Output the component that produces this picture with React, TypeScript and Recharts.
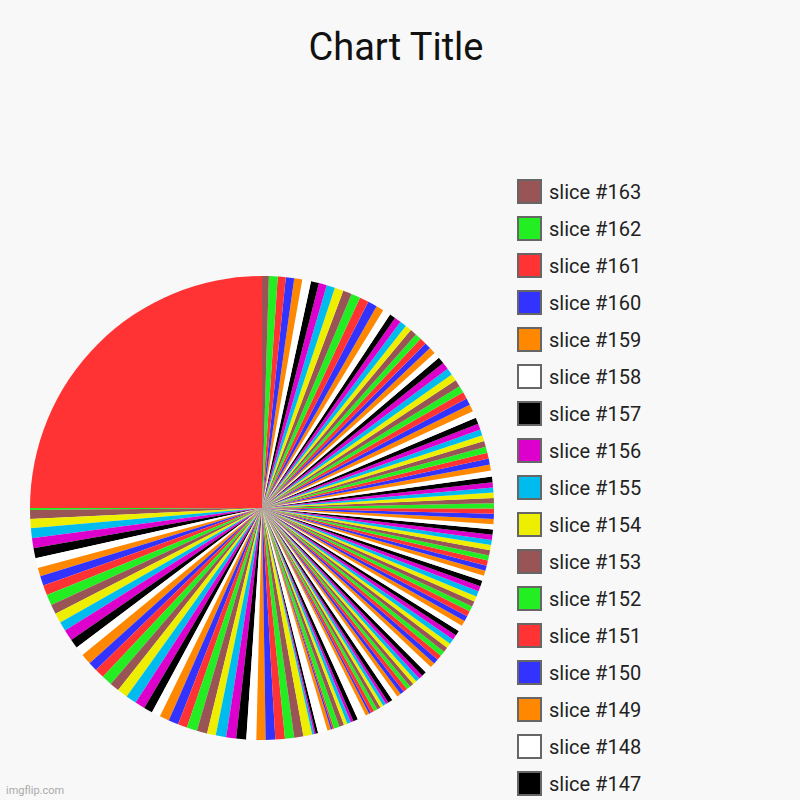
import React from 'react';
import { PieChart, Pie, Cell, Legend } from 'recharts';

// slice #1 .. slice #163 (angle units, total 360)
const sliceValues = [
  90, 0.5, 2.2, 2.3, 2.5, 2.5, 2.5, 2.5, 2.1, 2.4,
  2.5, 2.7, 2.4, 2.5, 2.3, 2.8, 2.3, 2.3, 2.7, 2.3,
  2.4, 2.6, 2.4, 2.6, 2.7, 2.5, 2.2, 2.2, 2.4, 2.5,
  2.3, 2.6, 2.6, 2.2, 2.6, 2.5, 2.5, 2.5, 2.3, 2.4,
  2.4, 2.3, 2.3, 2.2, 0.5, 0.4, 0.6, 2.4, 0.9, 0.4,
  0.4, 1.4, 1.2, 0.9, 0.9, 0.7, 1.2, 2.2, 0.9, 0.5,
  0.9, 0.9, 0.9, 0.8, 0.8, 0.7, 1.2, 1.5, 1.0, 1.0,
  1.0, 1.0, 1.0, 1.0, 1.0, 1.0, 1.2, 1.8, 1.25, 1.25,
  1.25, 1.25, 1.25, 1.25, 1.25, 1.25, 1.3, 1.5, 1.35, 1.35,
  1.35, 1.35, 1.35, 1.35, 1.35, 1.35, 1.4, 1.3, 1.3, 1.3,
  1.3, 1.3, 1.3, 1.3, 1.3, 1.3, 1.3, 1.3, 1.3, 1.3,
  1.3, 1.3, 1.3, 1.3, 1.3, 1.3, 1.4, 1.5, 1.5, 1.5,
  1.5, 1.5, 1.5, 1.5, 1.5, 1.5, 1.6, 1.75, 1.75, 1.75,
  1.75, 1.75, 1.75, 1.75, 1.75, 1.75, 1.7, 1.6, 1.65, 1.6,
  1.65, 1.6, 1.65, 1.6, 1.65, 1.65, 1.5, 2.0, 1.9, 2.3,
  2.3, 2.3, 2.2, 2.2, 2.1, 2.0, 2.0, 2.2, 2.0, 2.1,
  2.0, 2.2, 1.7,
];

const sliceNames = sliceValues.map((_, i) => `slice #${i + 1}`);

// colour cycle: #1 red, #2 green, #3 brown ... #10 blue
const palette = [
  '#ff3333', '#22ee22', '#995555', '#eeee00', '#00bbee',
  '#dd00cc', '#000000', '#ffffff', '#ff8800', '#3333ff',
];

// legend shows the last slices, newest first
const legendShown = 17;

const pieData = sliceValues.map((v, i) => ({ name: sliceNames[i], value: v }));

const renderLegend = () => {
  const items = [];
  for (let k = 0; k < legendShown; k++) {
    const idx = sliceValues.length - 1 - k;
    items.push(
      <div key={idx} style={{ display: 'flex', alignItems: 'center', height: 37 }}>
        <div
          style={{
            width: 25,
            height: 25,
            boxSizing: 'border-box',
            border: '2px solid #666',
            background: palette[idx % palette.length],
            marginRight: 7,
          }}
        />
        <span style={{ fontSize: 20, color: '#222', fontFamily: 'Roboto' }}>{sliceNames[idx]}</span>
      </div>
    );
  }
  return <div>{items}</div>;
};

export default function App() {
  return (
    <div
      style={{
        position: 'absolute',
        left: 0,
        top: 0,
        width: 800,
        height: 800,
        background: '#f8f8f8',
        overflow: 'hidden',
        fontFamily: 'Roboto',
      }}
    >
      <div
        style={{
          position: 'absolute',
          top: 28,
          left: 0,
          width: 792,
          textAlign: 'center',
          fontSize: 38,
          lineHeight: '38px',
          color: '#111',
        }}
      >
        Chart Title
      </div>
      <PieChart width={800} height={800} margin={{ top: 0, right: 0, bottom: 0, left: 0 }}>
        <Pie
          data={pieData}
          dataKey="value"
          nameKey="name"
          cx={262}
          cy={508}
          outerRadius={232}
          startAngle={90}
          endAngle={450}
          stroke="none"
          isAnimationActive={false}
        >
          {pieData.map((d, i) => (
            <Cell key={d.name} fill={palette[i % palette.length]} />
          ))}
        </Pie>
        <Legend
          layout="vertical"
          align="right"
          verticalAlign="middle"
          wrapperStyle={{ left: 517, top: 173, width: 200 }}
          content={renderLegend}
        />
      </PieChart>
      <div
        style={{
          position: 'absolute',
          left: 6,
          top: 784,
          fontSize: 11,
          color: '#aaa',
        }}
      >
        imgflip.com
      </div>
    </div>
  );
}
